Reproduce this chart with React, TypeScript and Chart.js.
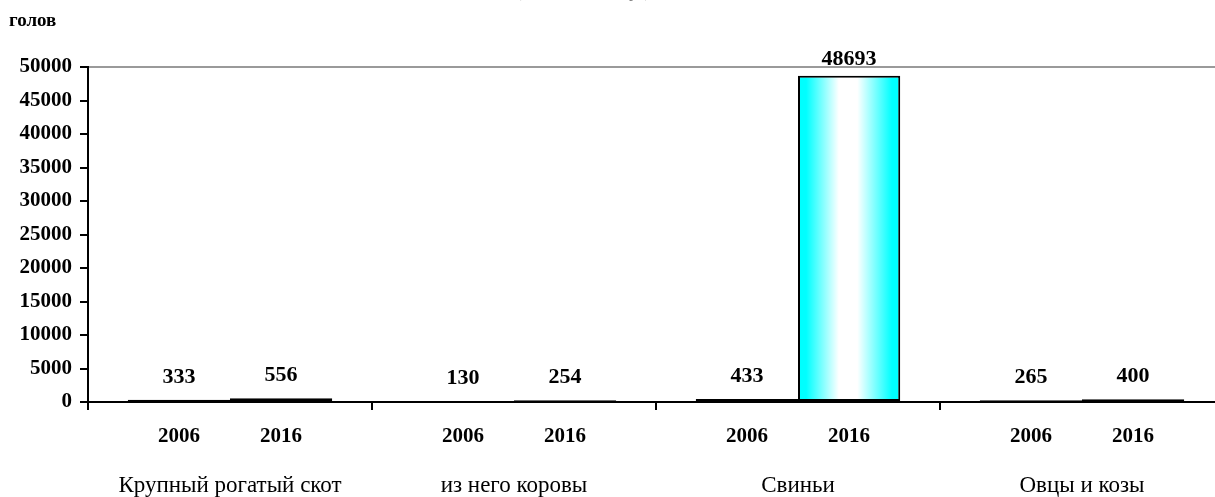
import React, { useEffect, useRef } from 'react';
import { Chart, registerables } from 'chart.js';

Chart.register(...registerables);

// ---- data ----
const categories = ['Крупный рогатый скот', 'из него коровы', 'Свиньи', 'Овцы и козы'];
const seriesYears = ['2006', '2016'];
const values2006 = [333, 130, 433, 265];
const values2016 = [556, 254, 48693, 400];
const yAxisMin = 0;
const yAxisMax = 50000;
const yAxisStep = 5000;
const unitLabel = 'голов';
const titleText = '(голов, на 1 января)';

// ---- styles ----
const FONT = "'Liberation Serif', 'Times New Roman', serif";
const edgeColors2006 = ['#000000', '#000000', '#0a2a2a', '#000000'];
const edgeColors2016 = ['#ff9900', '#000000', '#00ffff', '#000000'];

function makeFill(edges: string[]) {
  return (c: any) => {
    const chart = c.chart;
    const edge = edges[c.dataIndex] || '#000';
    const xs = chart.scales && chart.scales.x;
    if (!xs || !chart.chartArea || edge === '#000000') return edge;
    const catW = xs.width / categories.length;
    const barW = (catW * 0.72) / 2;
    const center = xs.getPixelForValue(c.dataIndex);
    const left = center - barW + c.datasetIndex * barW;
    const g = chart.ctx.createLinearGradient(left, 0, left + barW, 0);
    g.addColorStop(0, edge);
    g.addColorStop(0.08, edge);
    g.addColorStop(0.4, '#ffffff');
    g.addColorStop(0.58, '#ffffff');
    g.addColorStop(0.92, edge);
    g.addColorStop(1, edge);
    return g;
  };
}

const labelsPlugin = {
  id: 'labelsPlugin',
  afterDatasetsDraw(chart: any) {
    const { ctx, chartArea } = chart;
    ctx.save();
    ctx.fillStyle = '#000';
    ctx.textAlign = 'center';
    ctx.textBaseline = 'alphabetic';
    chart.data.datasets.forEach((ds: any, di: number) => {
      const meta = chart.getDatasetMeta(di);
      meta.data.forEach((el: any, i: number) => {
        const y = Math.max(el.y - 17, chartArea.top - 2);
        ctx.font = `bold 22px ${FONT}`;
        ctx.fillText(String(ds.data[i]), el.x, y);
        ctx.font = `bold 21px ${FONT}`;
        ctx.fillText(ds.label, el.x, chartArea.bottom + 40);
      });
    });
    ctx.restore();
  },
  afterDraw(chart: any) {
    const { ctx } = chart;
    ctx.save();
    ctx.fillStyle = '#000';
    ctx.textAlign = 'left';
    ctx.textBaseline = 'alphabetic';
    ctx.font = `bold 19px ${FONT}`;
    ctx.fillText(unitLabel, 9, 26);
    ctx.fillStyle = '#808080';
    ctx.textAlign = 'center';
    ctx.font = `16px ${FONT}`;
    ctx.fillText(titleText, 583, -3);
    ctx.restore();
  },
};

export default function App() {
  const ref = useRef<HTMLCanvasElement>(null);

  useEffect(() => {
    if (!ref.current) return;
    const chart = new Chart(ref.current, {
      type: 'bar',
      data: {
        labels: categories,
        datasets: [
          {
            label: seriesYears[0],
            data: values2006,
            backgroundColor: makeFill(edgeColors2006),
            borderColor: '#000',
            borderWidth: 2,
            borderSkipped: false,
            categoryPercentage: 0.72,
            barPercentage: 1.0,
          },
          {
            label: seriesYears[1],
            data: values2016,
            backgroundColor: makeFill(edgeColors2016),
            borderColor: '#000',
            borderWidth: 2,
            borderSkipped: false,
            categoryPercentage: 0.72,
            barPercentage: 1.0,
          },
        ],
      },
      options: {
        responsive: true,
        maintainAspectRatio: false,
        animation: false,
        layout: { padding: { top: 67, right: 2, left: 0, bottom: 0 } },
        plugins: {
          legend: { display: false },
          tooltip: { enabled: false },
          title: { display: false },
        },
        scales: {
          x: {
            grid: {
              offset: true,
              drawOnChartArea: false,
              drawTicks: true,
              tickLength: 8,
              tickColor: '#000',
              color: '#000',
              lineWidth: 2,
            },
            border: { color: '#000', width: 2 },
            ticks: {
              color: '#000',
              font: { family: FONT, size: 23 },
              padding: 62,
              maxRotation: 0,
              autoSkip: false,
            },
            afterFit: (s: any) => {
              s.height = 95;
            },
          },
          y: {
            min: yAxisMin,
            max: yAxisMax,
            grid: {
              drawOnChartArea: true,
              tickLength: 8,
              tickColor: '#000',
              color: (c: any) => (c.tick && c.tick.value === yAxisMax ? '#9a9a9a' : 'rgba(0,0,0,0)'),
              lineWidth: 2,
            },
            border: { color: '#000', width: 2 },
            ticks: {
              stepSize: yAxisStep,
              color: '#000',
              padding: 8,
              font: { family: FONT, size: 21, weight: 'bold' },
              autoSkip: false,
              callback: (v: any) => String(v),
            },
            afterFit: (s: any) => {
              s.width = 88;
            },
          },
        },
      },
      plugins: [labelsPlugin],
    });
    return () => chart.destroy();
  }, []);

  return (
    <div
      style={{
        position: 'absolute',
        left: 0,
        top: 0,
        width: 1215,
        height: 497,
        overflow: 'hidden',
        background: '#fff',
      }}
    >
      <div style={{ position: 'relative', width: 1226, height: 497 }}>
        <canvas ref={ref} />
      </div>
    </div>
  );
}
